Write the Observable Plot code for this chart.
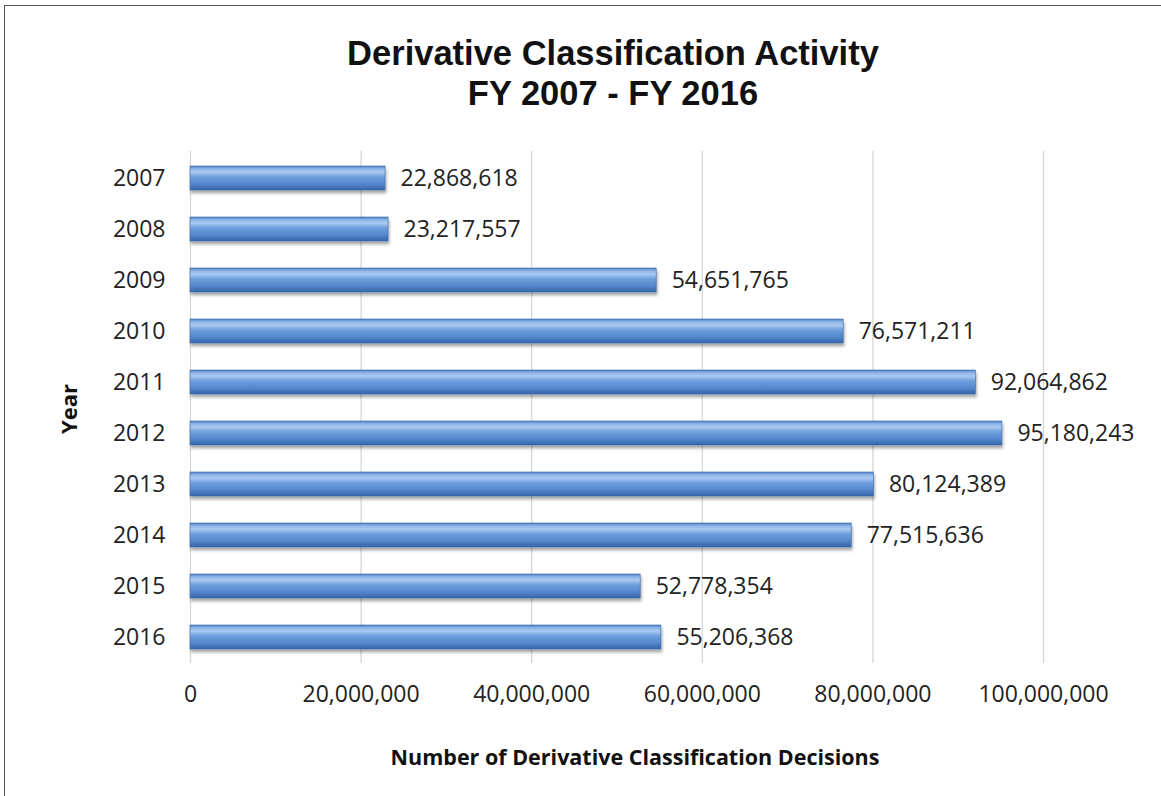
<!DOCTYPE html>
<html>
<head>
<meta charset="utf-8">
<script src="https://cdn.jsdelivr.net/npm/d3@7"></script>
<script src="https://cdn.jsdelivr.net/npm/@observablehq/plot@0.6"></script>
<style>
  html, body { margin: 0; padding: 0; background: #fff; }
  #frame { position: absolute; left: 4px; top: 5px; width: 1160px; height: 800px; border: 1px solid #555; box-sizing: border-box; }
  #title { position: absolute; left: 0; width: 1226px; top: 33px; text-align: center; font-family: "Liberation Sans", Arial, sans-serif; font-weight: bold; font-size: 34.5px; line-height: 40px; color: #111; }
  #chart { position: absolute; left: 0; top: 140px; }
  #xtitle { position: absolute; left: 0; width: 1270px; top: 742px; text-align: center; font-family: "Open Sans", sans-serif; font-weight: bold; font-size: 21.5px; color: #111; }
  #ytitle { position: absolute; left: 68px; top: 409px; transform: translate(-50%, -50%) rotate(-90deg); font-family: "Open Sans", sans-serif; font-weight: bold; font-size: 22px; color: #111; }
</style>
</head>
<body>
<div id="frame"></div>
<div id="title">Derivative Classification Activity<br>FY 2007 - FY 2016</div>
<div id="chart"></div>
<div id="xtitle">Number of Derivative Classification Decisions</div>
<div id="ytitle">Year</div>
<script>
const years = ["2007","2008","2009","2010","2011","2012","2013","2014","2015","2016"];
const decisions = [22868618, 23217557, 54651765, 76571211, 92064862, 95180243, 80124389, 77515636, 52778354, 55206368];
const xTicks = [0, 20000000, 40000000, 60000000, 80000000, 100000000];

const data = years.map((y, i) => ({year: y, value: decisions[i]}));
const fmt = d3.format(",");

const chart = Plot.plot({
  width: 1161,
  height: 656,
  marginLeft: 190,
  marginRight: 118,
  marginTop: 11,
  marginBottom: 133,
  style: {fontFamily: "'Open Sans', sans-serif", fontSize: "23px", color: "#222", background: "transparent"},
  x: {domain: [0, 100000000], ticks: xTicks, tickFormat: fmt, label: null},
  y: {domain: years, paddingInner: 0.53, paddingOuter: 0.265, label: null},
  marks: [
    Plot.gridX(xTicks, {stroke: "#d4d4d4", strokeOpacity: 1, strokeWidth: 1.2}),
    Plot.axisX({ticks: xTicks, tickFormat: fmt, tickSize: 0, tickPadding: 22, label: null, fontSize: 23}),
    Plot.axisY({tickSize: 0, tickPadding: 25, label: null, fontSize: 23}),
    Plot.barX(data, {x: "value", y: "year", fill: "url(#barGrad)", stroke: "#3a68a8", strokeWidth: 0.6}),
    Plot.text(data, {x: "value", y: "year", text: d => fmt(d.value), dx: 15, textAnchor: "start", fontSize: 23, fill: "#222"})
  ]
});

const svg = d3.select(chart);
const defs = svg.insert("defs", ":first-child");
const g = defs.append("linearGradient").attr("id", "barGrad").attr("x1", 0).attr("y1", 0).attr("x2", 0).attr("y2", 1);
[["0%", "#4f80c4"], ["12%", "#8fb6e8"], ["26%", "#a9c9f0"], ["45%", "#6f9fdd"], ["75%", "#5487cc"], ["100%", "#3563a8"]]
  .forEach(([o, c]) => g.append("stop").attr("offset", o).attr("stop-color", c));
const f = defs.append("filter").attr("id", "shadow").attr("x", "-5%").attr("y", "-20%").attr("width", "110%").attr("height", "160%");
f.append("feDropShadow").attr("dx", 1).attr("dy", 3).attr("stdDeviation", 1.6).attr("flood-color", "#000").attr("flood-opacity", 0.35);
svg.selectAll("g[aria-label='bar']").attr("filter", "url(#shadow)");

document.getElementById("chart").appendChild(chart);
</script>
</body>
</html>
